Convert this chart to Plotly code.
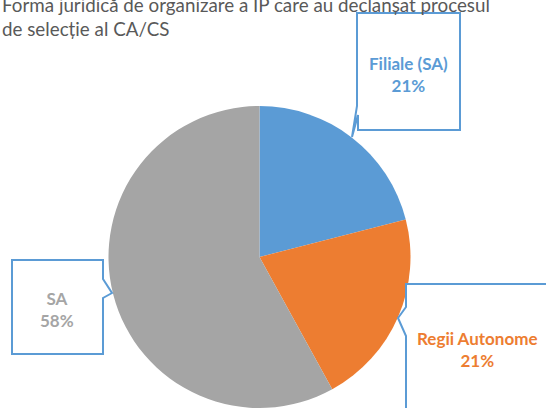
import plotly.graph_objects as go

W, H = 546, 408

title_lines = ["Forma juridică de organizare a IP care au declanșat procesul", "de selecție al CA/CS"]
categories = ["Filiale (SA)", "Regii Autonome", "SA"]
values = [21, 21, 58]
colors = ["#5B9BD5", "#ED7D31", "#A5A5A5"]


def px(x):
    return x / W


def py(y):
    return 1 - y / H


def path(points):
    s = "M " + " L ".join(f"{px(x):.5f},{py(y):.5f}" for x, y in points) + " Z"
    return s


fig = go.Figure(
    go.Pie(
        labels=categories,
        values=values,
        marker=dict(colors=colors, line=dict(color="rgba(0,0,0,0)", width=0)),
        sort=False,
        direction="clockwise",
        rotation=0,
        textinfo="none",
        hoverinfo="label+percent",
        showlegend=False,
        domain=dict(x=[108 / W, 411 / W], y=[0, 1 - 106 / H]),
    )
)

box_color = "#5B9BD5"
callouts = [
    # Filiale (SA)
    [(357, 13), (460, 13), (460, 130), (358, 130), (358, 115), (352, 137), (357, 106)],
    # Regii Autonome
    [(406, 284), (560, 284), (560, 420), (406, 420), (406, 336), (398, 318), (406, 307)],
    # SA
    [(12, 260), (103, 260), (103, 279), (112, 293), (103, 298), (103, 354), (12, 354)],
]
shapes = []
for pts in callouts:
    shapes.append(
        dict(
            type="path",
            xref="paper",
            yref="paper",
            path=path(pts),
            line=dict(color=box_color, width=2),
            fillcolor="white",
            layer="above",
        )
    )

total = sum(values)
label_pos = [(408, 74), (477, 349), (57, 309)]
annotations = []
for cat, v, c, (x, y) in zip(categories, values, colors, label_pos):
    annotations.append(
        dict(
            x=px(x),
            y=py(y),
            xref="paper",
            yref="paper",
            text=f"<b>{cat}<br>{round(v / total * 100)}%</b>",
            showarrow=False,
            font=dict(family="Lato", size=17, color=c),
            align="center",
            xanchor="center",
            yanchor="middle",
        )
    )

annotations.append(
    dict(
        x=0,
        y=py(16.5),
        xref="paper",
        yref="paper",
        text="<br>".join(title_lines),
        showarrow=False,
        font=dict(family="Lato", size=18.8, color="#595959"),
        align="left",
        xanchor="left",
        yanchor="middle",
    )
)

fig.update_layout(
    width=W,
    height=H,
    margin=dict(l=0, r=0, t=0, b=0),
    paper_bgcolor="white",
    plot_bgcolor="white",
    shapes=shapes,
    annotations=annotations,
)

fig.write_html(
    "out.html",
    config={"displayModeBar": False},
    post_script="document.body.style.margin='0';document.body.style.overflow='hidden';",
)
